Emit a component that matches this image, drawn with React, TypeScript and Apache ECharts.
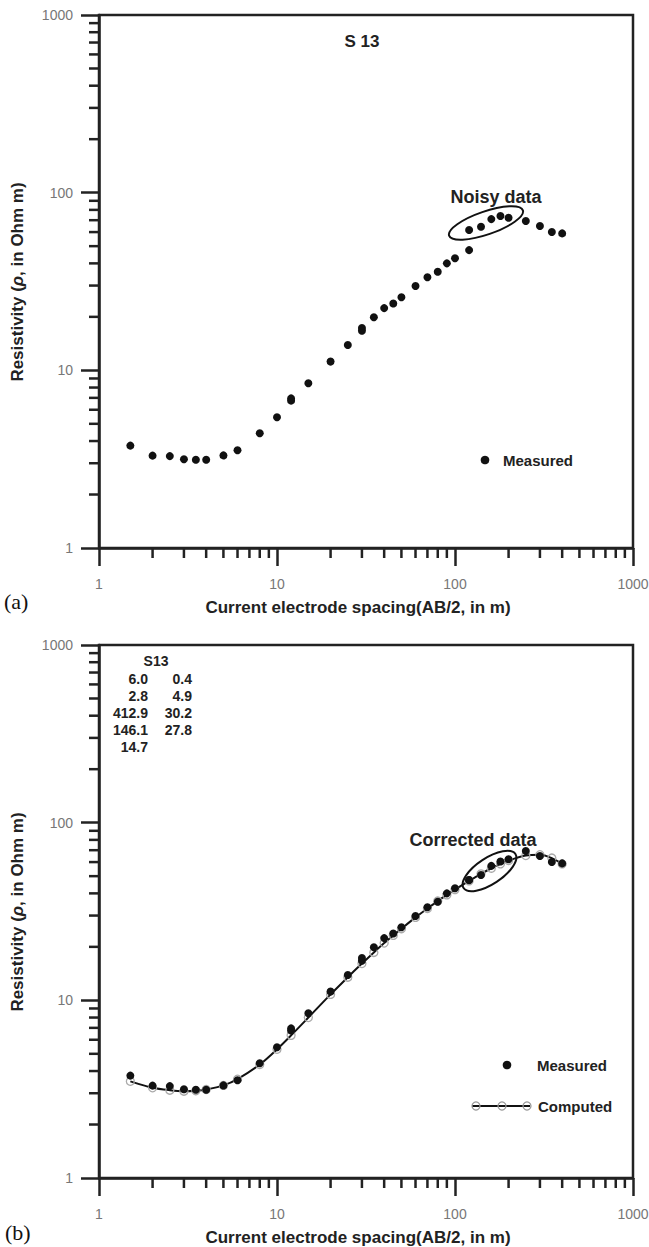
import React, { useEffect, useRef } from "react";
import * as echarts from "echarts";

// AB/2 spacing (m) of each measured point
const spacing = [1.5, 2, 2.5, 3, 3.5, 4, 5, 6, 8, 10, 12, 12, 15, 20, 25, 30, 30, 35, 40, 45, 50, 60, 70, 80, 90, 100, 120, 120, 140, 160, 180, 200, 250, 300, 350, 400];
// panel (a): measured apparent resistivity (noisy)
const measuredNoisy = [3.77, 3.31, 3.29, 3.16, 3.14, 3.14, 3.32, 3.55, 4.42, 5.44, 6.75, 6.95, 8.45, 11.2, 13.9, 16.7, 17.3, 19.9, 22.4, 23.8, 25.8, 29.8, 33.4, 35.9, 40.0, 42.7, 47.5, 61.6, 64.3, 71.0, 73.9, 72.3, 69.2, 64.9, 60.0, 59.0];
// panel (b): measured apparent resistivity (corrected)
const measuredCorrected = [3.77, 3.31, 3.29, 3.16, 3.14, 3.14, 3.32, 3.55, 4.42, 5.44, 6.75, 6.95, 8.45, 11.2, 13.9, 16.7, 17.3, 19.9, 22.4, 23.8, 25.8, 29.8, 33.4, 35.9, 40.0, 42.7, 47.5, 47.6, 50.8, 57.1, 60.4, 62.3, 69.2, 64.9, 60.0, 59.0];
// panel (b): computed model curve
const computedSpacing = [1.5, 2, 2.5, 3, 3.5, 4, 5, 6, 8, 10, 12, 15, 20, 25, 30, 35, 40, 45, 50, 60, 70, 80, 90, 100, 120, 140, 160, 180, 200, 250, 300, 350, 400];
const computedRho = [3.5, 3.22, 3.12, 3.08, 3.1, 3.15, 3.32, 3.6, 4.35, 5.3, 6.35, 8.0, 10.8, 13.5, 16.1, 18.6, 21.0, 23.2, 25.3, 29.3, 32.9, 36.2, 39.2, 42.0, 47.0, 51.5, 55.4, 58.6, 61.2, 65.3, 66.0, 63.2, 58.6];
// minor tick values of the log axes
const minorTickValues = [2, 3, 4, 5, 6, 7, 8, 9, 20, 30, 40, 50, 60, 70, 80, 90, 200, 300, 400, 500, 600, 700, 800, 900];
// layer parameters table of panel (b)
const tableLeft = ["6.0", "2.8", "412.9", "146.1", "14.7"];
const tableRight = ["0.4", "4.9", "30.2", "27.8", ""];

const AXIS = "#222";
const SANS = "'Liberation Sans', Arial, sans-serif";

function mkX(gi: number) {
  return {
    type: "log", logBase: 10, min: 1, max: 1000, gridIndex: gi,
    axisLine: { show: true, onZero: false, lineStyle: { color: AXIS, width: 2.5 } },
    axisTick: { show: true, inside: false, length: 18, lineStyle: { color: AXIS, width: 2.5 } },
    axisLabel: { margin: 29, color: "#777", fontSize: 14, fontFamily: SANS, formatter: (v: number) => String(Math.round(v)) },
    splitLine: { show: false },
  };
}
function mkY(gi: number) {
  return {
    type: "log", logBase: 10, min: 1, max: 1000, gridIndex: gi,
    axisLine: { show: true, onZero: false, lineStyle: { color: AXIS, width: 2.5 } },
    axisTick: { show: true, inside: false, length: 18, lineStyle: { color: AXIS, width: 2.5 } },
    axisLabel: { margin: 26, color: "#777", fontSize: 14, fontFamily: SANS, formatter: (v: number) => String(Math.round(v)) },
    splitLine: { show: false },
  };
}
function minorSeries(gi: number, dir: "x" | "y") {
  return {
    type: "custom", xAxisIndex: gi, yAxisIndex: gi, clip: false, silent: true, z: 5,
    data: minorTickValues.map((v) => (dir === "x" ? [v, 1] : [1, v])),
    renderItem: (params: any, api: any) => {
      const p = api.coord([api.value(0), api.value(1)]);
      const shape = dir === "x"
        ? { x1: p[0], y1: p[1], x2: p[0], y2: p[1] + 10 }
        : { x1: p[0] - 10, y1: p[1], x2: p[0], y2: p[1] };
      return { type: "line", shape, style: { stroke: AXIS, lineWidth: 2.5 } };
    },
  };
}

function txt(x: number, y: number, text: string, size: number, align = "center", extra: any = {}) {
  return {
    type: "text", x, y, z: 50,
    style: {
      text, fill: "#222", font: `bold ${size}px ${SANS}`,
      align, textAlign: align, verticalAlign: "middle", textVerticalAlign: "middle",
      ...extra,
    },
  };
}

function yName(y: number) {
  return {
    type: "text", x: 17, y, rotation: Math.PI / 2, z: 50,
    style: {
      text: "Resistivity ({i|ρ}, in Ohm m)", fill: "#222", font: `bold 17px ${SANS}`,
      align: "center", textAlign: "center", verticalAlign: "middle", textVerticalAlign: "middle",
      rich: { i: { fontStyle: "italic", fontWeight: "bold", fontSize: 17, fontFamily: SANS, fill: "#222" } },
    },
  };
}

export default function App() {
  const ref = useRef<HTMLDivElement>(null);
  useEffect(() => {
    if (!ref.current) return;
    const chart = echarts.init(ref.current, null, { renderer: "svg" });
    const graphic: any[] = [
      // panel a
      txt(362, 41, "S 13", 17),
      txt(496, 197, "Noisy data", 18),
      { type: "ellipse", x: 486, y: 223, rotation: 0.33, z: 50, shape: { cx: 0, cy: 0, rx: 39, ry: 11.5 }, style: { fill: "none", stroke: "#111", lineWidth: 2 } },
      { type: "circle", x: 485, y: 460, z: 50, shape: { cx: 0, cy: 0, r: 4.3 }, style: { fill: "#111" } },
      txt(503, 460, "Measured", 15, "left"),
      txt(358, 607, "Current electrode spacing(AB/2, in m)", 17),
      yName(282),
      { type: "text", x: 4, y: 601, z: 50, style: { text: "(a)", fill: "#111", font: "22px 'Liberation Serif', 'Times New Roman', serif", align: "left", textAlign: "left", verticalAlign: "middle", textVerticalAlign: "middle" } },
      // panel b
      txt(156, 661, "S13", 14),
      ...tableLeft.map((t, i) => txt(148, 679 + i * 17.1, t, 14, "right")),
      ...tableRight.map((t, i) => txt(192, 679 + i * 17.1, t, 14, "right")),
      txt(473, 840, "Corrected data", 18),
      { type: "ellipse", x: 489.5, y: 871, rotation: 0.58, z: 50, shape: { cx: 0, cy: 0, rx: 31, ry: 13 }, style: { fill: "none", stroke: "#111", lineWidth: 2 } },
      { type: "circle", x: 507, y: 1065, z: 50, shape: { cx: 0, cy: 0, r: 4.3 }, style: { fill: "#111" } },
      txt(537, 1065, "Measured", 15, "left"),
      { type: "line", z: 50, shape: { x1: 472, y1: 1106, x2: 530, y2: 1106 }, style: { stroke: "#111", lineWidth: 2 } },
      ...[476, 502, 527].map((cx) => ({ type: "circle", x: cx, y: 1106, z: 51, shape: { cx: 0, cy: 0, r: 4 }, style: { fill: "none", stroke: "#999", lineWidth: 1.3 } })),
      txt(538, 1106, "Computed", 15, "left"),
      txt(358, 1237, "Current electrode spacing(AB/2, in m)", 17),
      yName(912),
      { type: "text", x: 5, y: 1232, z: 50, style: { text: "(b)", fill: "#111", font: "22px 'Liberation Serif', 'Times New Roman', serif", align: "left", textAlign: "left", verticalAlign: "middle", textVerticalAlign: "middle" } },
    ];
    chart.setOption({
      animation: false,
      backgroundColor: "#fff",
      grid: [
        { left: 99, top: 15, width: 534, height: 533, show: true, borderColor: AXIS, borderWidth: 2.5, containLabel: false, outerBoundsMode: "none" },
        { left: 99, top: 645, width: 534, height: 533, show: true, borderColor: AXIS, borderWidth: 2.5, containLabel: false, outerBoundsMode: "none" },
      ],
      xAxis: [mkX(0), mkX(1)],
      yAxis: [mkY(0), mkY(1)],
      series: [
        minorSeries(0, "x"), minorSeries(0, "y"), minorSeries(1, "x"), minorSeries(1, "y"),
        {
          type: "scatter", xAxisIndex: 0, yAxisIndex: 0, symbol: "circle", symbolSize: 8, z: 10,
          itemStyle: { color: "#111", opacity: 1 },
          data: spacing.map((x, i) => [x, measuredNoisy[i]]),
        },
        {
          type: "line", xAxisIndex: 1, yAxisIndex: 1, smooth: 0.3, symbol: "circle", symbolSize: 8, z: 8,
          lineStyle: { color: "#111", width: 2 },
          itemStyle: { color: "rgba(255,255,255,0)", borderColor: "#aaa", borderWidth: 1.3 },
          data: computedSpacing.map((x, i) => [x, computedRho[i]]),
        },
        {
          type: "scatter", xAxisIndex: 1, yAxisIndex: 1, symbol: "circle", symbolSize: 8, z: 10,
          itemStyle: { color: "#111", opacity: 1 },
          data: spacing.map((x, i) => [x, measuredCorrected[i]]),
        },
      ],
      graphic,
    } as any);
    return () => chart.dispose();
  }, []);
  return <div ref={ref} style={{ position: "absolute", left: 0, top: 0, width: 649, height: 1247 }} />;
}
